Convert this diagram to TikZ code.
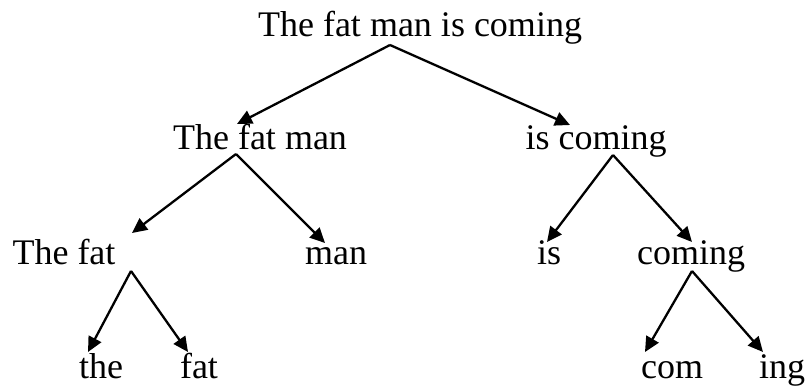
\documentclass[tikz,border=0pt]{standalone}
\usepackage{fontspec}
\setmainfont{Liberation Serif}
\usetikzlibrary{arrows.meta}
\begin{document}
\begin{tikzpicture}[x=1pt,y=-1pt,
  word/.style={anchor=base,inner sep=0pt,font=\fontsize{36}{40}\selectfont},
  arr/.style={-{Triangle[length=15pt,width=14pt]},line width=2.3pt,line join=miter}]
\useasboundingbox (0,0) rectangle (808,387);
% words of each level
\node[word] (s)   at (420,37)  {The fat man is coming};
\node[word] (np)  at (260,150) {The fat man};
\node[word] (vp)  at (596,150) {is coming};
\node[word] (adj) at (64,265)  {The fat};
\node[word] (n)   at (336,265) {man};
\node[word] (v)   at (549,265) {is};
\node[word] (g)   at (691,265) {coming};
\node[word] (d)   at (101,378) {the};
\node[word] (a)   at (199,378) {fat};
\node[word] (st)  at (672,378) {com};
\node[word] (sf)  at (782,378) {ing};
% branching points below each phrase
\coordinate (sJ)   at (390,45);
\coordinate (npJ)  at (236,154);
\coordinate (vpJ)  at (613,155);
\coordinate (adjJ) at (131,271);
\coordinate (gJ)   at (692,271);
% arrow tips above the parts
\coordinate (npT)  at (237,124);
\coordinate (vpT)  at (570,125);
\coordinate (adjT) at (132,233);
\coordinate (nT)   at (325,243);
\coordinate (vT)   at (547,242);
\coordinate (gT)   at (692,242);
\coordinate (dT)   at (88,352);
\coordinate (aT)   at (188,352);
\coordinate (stT)  at (645,352);
\coordinate (sfT)  at (763,352);
\draw[arr] (sJ) -- (npT);
\draw[arr] (sJ) -- (vpT);
\draw[arr] (npJ) -- (adjT);
\draw[arr] (npJ) -- (nT);
\draw[arr] (vpJ) -- (vT);
\draw[arr] (vpJ) -- (gT);
\draw[arr] (adjJ) -- (dT);
\draw[arr] (adjJ) -- (aT);
\draw[arr] (gJ) -- (stT);
\draw[arr] (gJ) -- (sfT);
\end{tikzpicture}
\end{document}
